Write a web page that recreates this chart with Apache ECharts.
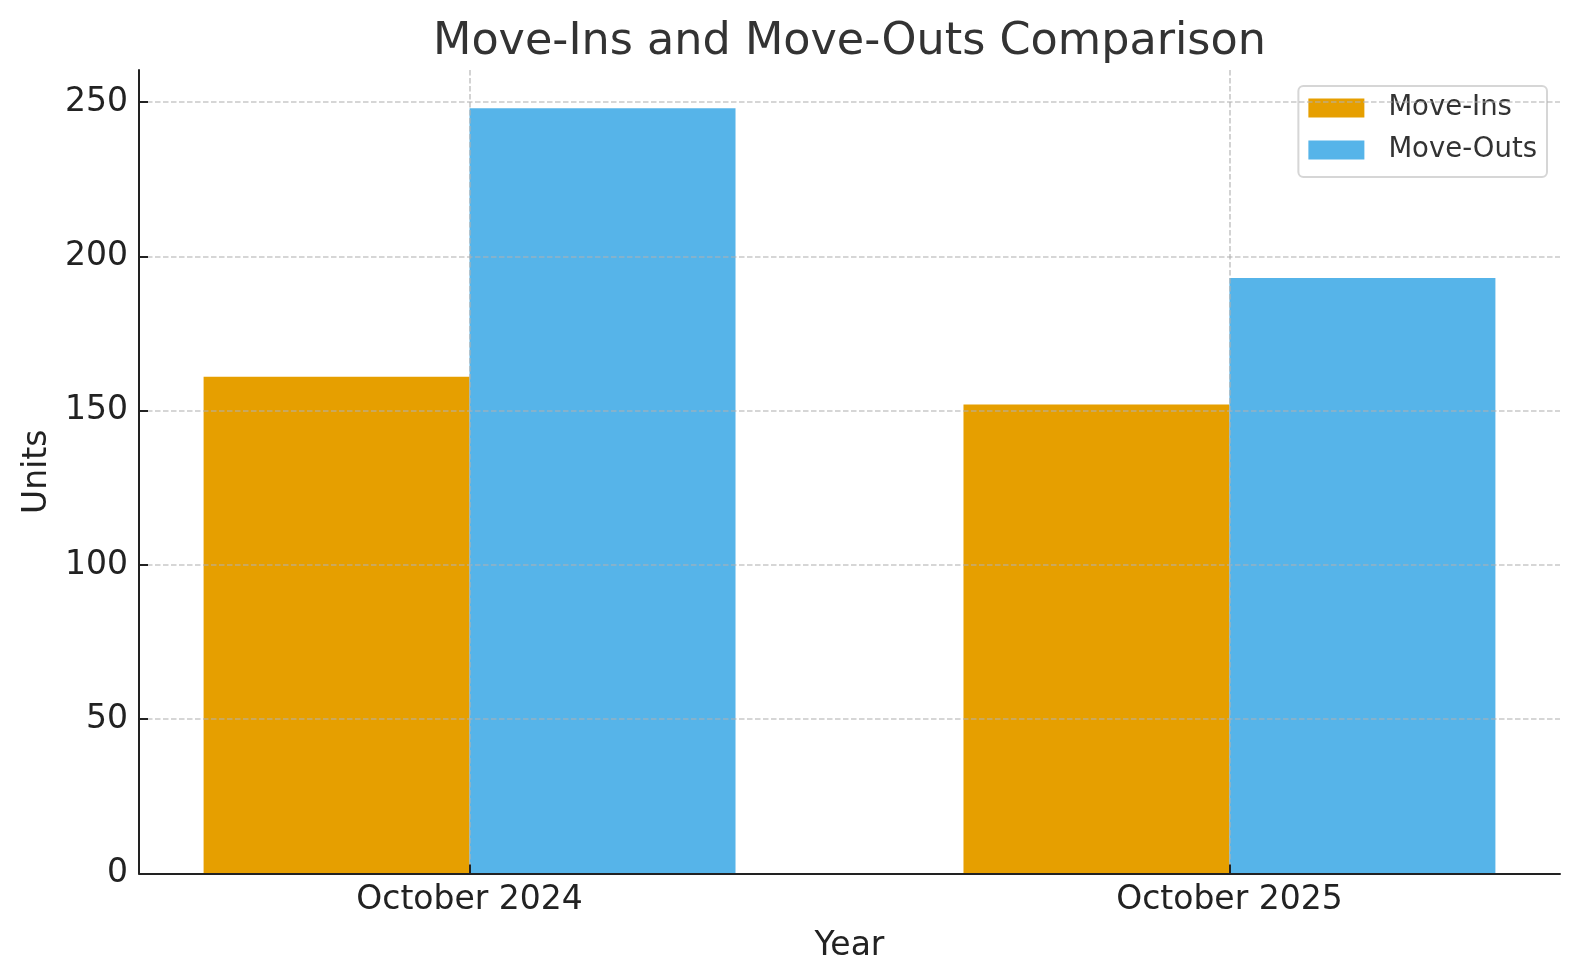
<!DOCTYPE html>
<html>
<head>
<meta charset="utf-8">
<script src="https://cdn.jsdelivr.net/npm/echarts@6/dist/echarts.min.js"></script>
<style>
html,body{margin:0;padding:0;background:#fff;}
#c{width:1580px;height:980px;}
</style>
</head>
<body>
<div id="c"></div>
<script>
// ---- data ----
const categories = ['October 2024', 'October 2025'];
const moveIns = [161, 152];
const moveOuts = [248, 193];
const yTicks = [0, 50, 100, 150, 200, 250];
const seriesNames = ['Move-Ins', 'Move-Outs'];
const titleText = 'Move-Ins and Move-Outs Comparison';
const xName = 'Year';
const yName = 'Units';

// ---- chart ----
const FONT = 'DejaVu Sans';
const gridColor = 'rgba(176,176,176,0.7)';
const catIdx = categories.map((_, i) => i);
const chart = echarts.init(document.getElementById('c'), null, {renderer: 'canvas'});

// centre the title over the plot area
const GRID_LEFT = 139, GRID_RIGHT = 20, W = 1580;
const TITLE_SIZE = 44.5;
const mctx = document.createElement('canvas').getContext('2d');
mctx.font = TITLE_SIZE + 'px "' + FONT + '"';
const titleW = mctx.measureText(titleText).width;
const plotCenter = (GRID_LEFT + (W - GRID_RIGHT)) / 2;

const option = {
  backgroundColor: '#ffffff',
  animation: false,
  textStyle: {fontFamily: FONT},
  title: {
    text: titleText,
    left: Math.round(plotCenter - titleW / 2),
    top: 20,
    padding: 0,
    textStyle: {fontFamily: FONT, fontSize: TITLE_SIZE, fontWeight: 'normal', color: '#333333'}
  },
  legend: {
    right: 33,
    top: 86,
    orient: 'vertical',
    icon: 'rect',
    itemWidth: 56,
    itemHeight: 19,
    itemGap: 14,
    padding: [8, 10, 13, 10],
    borderColor: '#d6d6d6',
    borderWidth: 2,
    borderRadius: 5,
    backgroundColor: 'rgba(255,255,255,0.8)',
    textStyle: {fontFamily: FONT, fontSize: 27.5, color: '#333333', lineHeight: 28, padding: [0, 0, 0, 19]},
    data: seriesNames
  },
  grid: {left: GRID_LEFT, right: GRID_RIGHT, top: 70, bottom: 106.5, containLabel: false},
  xAxis: {
    type: 'value',
    min: -0.435,
    max: 1.435,
    z: 5,
    name: xName,
    nameLocation: 'middle',
    nameGap: 56,
    nameTextStyle: {fontFamily: FONT, fontSize: 33, color: '#222222'},
    axisLine: {show: true, onZero: false, lineStyle: {color: '#222222', width: 2}},
    axisTick: {show: true, inside: true, length: 9, lineStyle: {color: '#222222', width: 2}, customValues: catIdx},
    axisLabel: {
      show: true, margin: 10, fontFamily: FONT, fontSize: 33, color: '#222222',
      customValues: catIdx,
      formatter: v => categories[Math.round(v)]
    },
    splitLine: {show: true, lineStyle: {color: gridColor, width: 1.6, type: [5.5, 2.5]}}
  },
  yAxis: {
    type: 'value',
    min: 0,
    max: 260.4,
    z: 5,
    name: yName,
    nameLocation: 'middle',
    nameGap: 78,
    nameTextStyle: {fontFamily: FONT, fontSize: 33, color: '#222222'},
    axisLine: {show: true, onZero: false, lineStyle: {color: '#222222', width: 2}},
    axisTick: {show: true, inside: true, length: 9, lineStyle: {color: '#222222', width: 2}, customValues: yTicks},
    axisLabel: {show: true, margin: 11, fontFamily: FONT, fontSize: 33, color: '#222222', customValues: yTicks},
    splitLine: {show: true, lineStyle: {color: gridColor, width: 1.6, type: [5.5, 2.5]}}
  },
  series: [
    {
      name: seriesNames[0],
      type: 'bar',
      barWidth: '35%',
      barGap: '0%',
      itemStyle: {color: '#E69F00'},
      data: catIdx.map(i => [i, moveIns[i]])
    },
    {
      name: seriesNames[1],
      type: 'bar',
      barWidth: '35%',
      barGap: '0%',
      itemStyle: {color: '#56B4E9'},
      data: catIdx.map(i => [i, moveOuts[i]])
    }
  ]
};
chart.setOption(option);
</script>
</body>
</html>
